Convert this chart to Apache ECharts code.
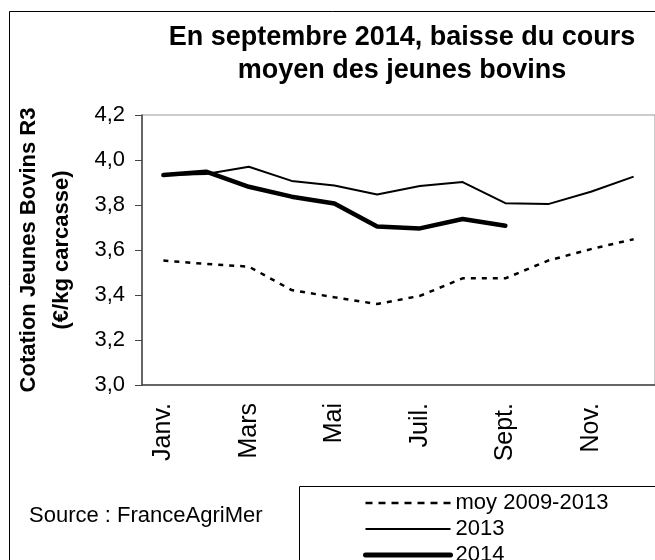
<!DOCTYPE html>
<html>

	<head>
		<meta charset="UTF-8">
		<title>Cotation Jeunes Bovins R3</title>
		<style>
			html, body { margin: 0; padding: 0; background: #fff; }
			#main { width: 655px; height: 560px; }
		</style>
	</head>

	<body>
		<div id="main"></div>

		<script src="https://cdn.jsdelivr.net/npm/echarts/dist/echarts.min.js"></script>

		<script>
			// mois (axe x)
			var months = ['Janv.', 'Févr.', 'Mars', 'Avr.', 'Mai', 'Juin', 'Juil.', 'Août', 'Sept.', 'Oct.', 'Nov.', 'Déc.'];
			// moyenne 2009-2013
			var moy = [3.553, 3.538, 3.526, 3.422, 3.390, 3.360, 3.396, 3.474, 3.474, 3.553, 3.604, 3.648];
			// 2013
			var y2013 = [3.933, 3.938, 3.970, 3.907, 3.887, 3.847, 3.884, 3.902, 3.808, 3.804, 3.859, 3.926];
			// 2014 (jusqu'à septembre)
			var y2014 = [3.933, 3.948, 3.881, 3.837, 3.807, 3.704, 3.696, 3.738, 3.708];

			var font = '"Liberation Sans", Arial, sans-serif';

			var myChart = echarts.init(document.getElementById('main'));

			var option = {
				animation: false,
				textStyle: { fontFamily: font, color: '#000' },
				title: {
					text: 'En septembre 2014, baisse du cours\nmoyen des jeunes bovins',
					left: 402,
					top: 21,
					padding: 0,
					textAlign: 'center',
					textStyle: {
						fontFamily: font,
						fontSize: 27,
						fontWeight: 'bold',
						lineHeight: 33,
						color: '#000'
					}
				},
				// cadre extérieur, source et fond de la légende
				graphic: [
					{
						type: 'rect',
						shape: { x: 9.5, y: 11.5, width: 700, height: 600 },
						style: { fill: 'none', stroke: '#000', lineWidth: 1 }
					},
					{
						type: 'text',
						left: 29,
						top: 505,
						style: { text: 'Source : FranceAgriMer', font: '22px ' + font, fill: '#000' }
					},
					{
						type: 'rect',
						shape: { x: 299.5, y: 486.5, width: 400, height: 100 },
						style: { fill: '#fff', stroke: '#000', lineWidth: 1 }
					}
				],
				legend: {
					orient: 'vertical',
					left: 363,
					top: 492,
					height: 120,
					padding: 0,
					itemWidth: 85,
					itemHeight: 14,
					itemGap: 4,
					// pas de symbole, seulement le trait
					itemStyle: { opacity: 0 },
					textStyle: { fontFamily: font, fontSize: 22, color: '#000' },
					data: [
						{ name: 'moy 2009-2013', lineStyle: { width: 2.5, type: [7, 6] } },
						{ name: '2013', lineStyle: { width: 2.2 } },
						{ name: '2014', lineStyle: { width: 5, cap: 'round' } }
					]
				},
				grid: {
					left: 142,
					top: 115,
					width: 530,
					height: 270,
					show: true,
					borderColor: '#999',
					borderWidth: 1
				},
				xAxis: {
					type: 'category',
					data: months,
					boundaryGap: true,
					axisLine: { lineStyle: { color: '#444', width: 1.5 } },
					axisTick: { interval: 0, length: 6, lineStyle: { color: '#444' } },
					axisLabel: {
						interval: 1,
						rotate: 90,
						margin: 18,
						fontSize: 25,
						fontFamily: font,
						color: '#000'
					}
				},
				yAxis: {
					type: 'value',
					min: 3.0,
					max: 4.2,
					interval: 0.2,
					name: 'Cotation Jeunes Bovins R3\n(€/kg carcasse)',
					nameLocation: 'middle',
					nameRotate: 90,
					nameGap: 64,
					nameTextStyle: {
						fontFamily: font,
						fontSize: 22,
						fontWeight: 'bold',
						lineHeight: 33,
						color: '#000'
					},
					splitLine: { show: false },
					axisLine: { show: true, lineStyle: { color: '#444', width: 1.5 } },
					axisTick: { show: true, length: 7, lineStyle: { color: '#444' } },
					axisLabel: {
						margin: 17,
						fontSize: 22,
						fontFamily: font,
						color: '#000',
						formatter: function(v) {
							return v.toFixed(1).replace('.', ',');
						}
					}
				},
				series: [
					{
						name: 'moy 2009-2013',
						type: 'line',
						data: moy,
						symbol: 'none',
						color: '#000',
						lineStyle: { color: '#000', width: 2.5, type: [5, 6] }
					},
					{
						name: '2013',
						type: 'line',
						data: y2013,
						symbol: 'none',
						color: '#000',
						lineStyle: { color: '#000', width: 2 }
					},
					{
						name: '2014',
						type: 'line',
						data: y2014,
						symbol: 'none',
						color: '#000',
						z: 3,
						lineStyle: { color: '#000', width: 4.5, cap: 'round' }
					}
				]
			};

			myChart.setOption(option);
		</script>

	</body>

</html>
